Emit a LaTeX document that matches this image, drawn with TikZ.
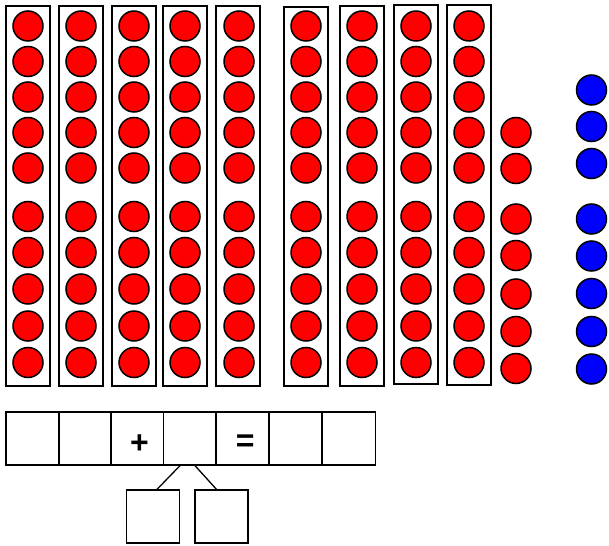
\documentclass[tikz,border=0pt]{standalone}
\usepackage{fontspec}
\setmainfont{Liberation Sans}
\begin{document}
\begin{tikzpicture}[x=1pt,y=-1pt,
  bead/.style={circle,draw=black,line width=1.5pt,minimum size=30pt,inner sep=0pt},
  redbead/.style={bead,fill=red},
  bluebead/.style={bead,fill=blue},
  tenbox/.style={draw=black,line width=1.5pt,inner sep=0pt},
  sqbox/.style={draw=black,line width=1.3pt,minimum width=53pt,minimum height=53pt,inner sep=0pt},
  sign/.style={inner sep=0pt,font=\fontsize{32}{32}\selectfont\bfseries},
  link/.style={draw=black,line width=1.3pt}]
\useasboundingbox (0,0) rectangle (609,545);
% ten-columns
\foreach \i/\cx/\l/\r/\t/\b in {1/28/6/50/6/386, 2/81/59/103/6/386, 3/134/112/156/6/386, 4/185/163/207/6/386, 5/239/216/260/6/386, 6/306/284/328/7/386, 7/362/340/384/6/386, 8/416/394/438/5/384, 9/469/447/491/5/385}{
  \node[tenbox,minimum width={\r-\l},minimum height={\b-\t}] (col\i) at ({(\l+\r)/2},{(\t+\b)/2}) {};
  \foreach \j/\cy in {1/26, 2/61.5, 3/97, 4/132.5, 5/168, 6/216.5, 7/252.5, 8/289, 9/326, 10/362.5}{
    \node[redbead] (r\i-\j) at (\cx,\cy) {};
  }
}
% loose red beads
\foreach \j/\cy in {1/132.5, 2/168.5, 3/219, 4/255.5, 5/294, 6/331.5, 7/368.5}{
  \node[redbead] (lr\j) at (516,\cy) {};
}
% blue beads
\foreach \j/\cy in {1/90, 2/126.5, 3/163.5, 4/219, 5/256, 6/293.5, 7/331.5, 8/369}{
  \node[bluebead] (b\j) at (591.5,\cy) {};
}
% equation boxes
\node[sqbox] (e1) at (32.5,438.5) {};
\node[sqbox] (e2) at (85,438.5) {};
\node[sqbox] (e3) at (137,438.5) {};
\node[sqbox] (e4) at (190,438.5) {};
\node[sqbox] (e5) at (242.5,438.5) {};
\node[sqbox] (e6) at (295.5,438.5) {};
\node[sqbox] (e7) at (349,438.5) {};
\node[sign] (plus) at (139.5,444.5) {+};
\node[sign] (eq) at (245.3,443) {=};
% split boxes
\node[sqbox] (s1) at (153,516.5) {};
\node[sqbox] (s2) at (221.5,516.5) {};
\draw[link] ([xshift=-10pt]e4.south) -- ([xshift=4pt]s1.north);
\draw[link] ([xshift=5pt]e4.south) -- ([xshift=-5pt]s2.north);
\end{tikzpicture}
\end{document}
